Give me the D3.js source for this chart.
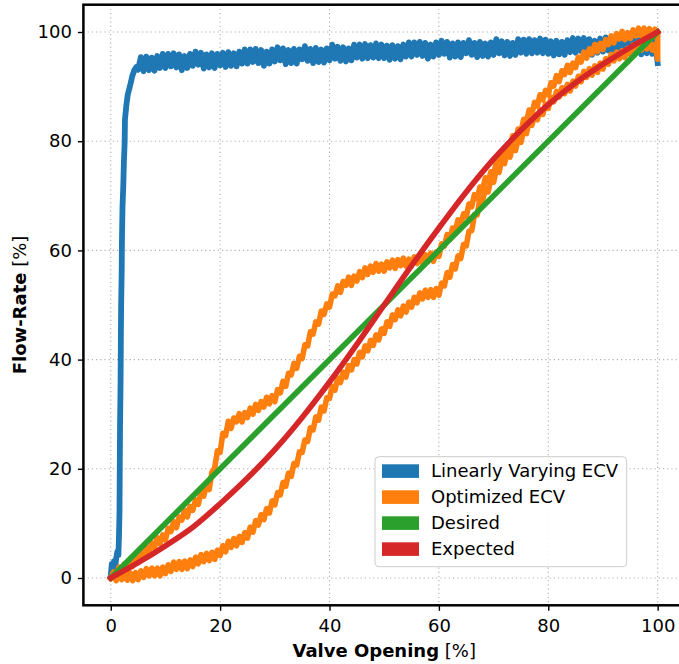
<!DOCTYPE html>
<html>
<head>
<meta charset="utf-8">
<script src="https://cdn.jsdelivr.net/npm/d3@7"></script>
<style>
  body { margin: 0; background: #fff; }
  svg { display: block; font-family: "DejaVu Sans", sans-serif; }
</style>
</head>
<body>
<script>
const tickValues = [0, 20, 40, 60, 80, 100];
const seriesNames = ['Linearly Varying ECV', 'Optimized ECV', 'Desired', 'Expected'];
const seriesColors = ['#1f77b4', '#ff7f0e', '#2ca02c', '#d62728'];

// linearly varying ECV: steep rise near zero opening
const blueRise = [
  [0, 0.4], [0.2, 2.6], [0.4, 1.0], [0.6, 3.1], [0.8, 2.0], [1.0, 3.6], [1.2, 4.8], [1.4, 4.2],
  [1.5, 7.5], [1.6, 12], [1.65, 20], [1.7, 28], [1.8, 36], [1.85, 44], [1.9, 50], [2.0, 56],
  [2.05, 62], [2.15, 68], [2.3, 72], [2.4, 76], [2.55, 80], [2.6, 84], [2.85, 86.5], [3.1, 88.5],
  [3.5, 90], [3.9, 91.8], [4.3, 93], [4.7, 93.6]
];
// plateau, opening 5 .. 100 in steps of 0.5
const bluePlateau = [
  93.1, 95.4, 92.8, 95.5, 93.0, 95.3, 92.9, 95.6, 93.4, 96.0,
  93.4, 96.0, 93.7, 96.1, 93.5, 95.9, 93.0, 95.6, 93.4, 96.0,
  93.8, 96.4, 94.0, 96.2, 93.3, 95.9, 93.5, 96.1, 93.4, 96.0,
  93.9, 96.2, 93.6, 96.3, 93.8, 96.1, 93.7, 96.4, 94.2, 96.8,
  94.2, 96.8, 94.5, 96.9, 94.3, 96.7, 93.8, 96.4, 94.2, 96.8,
  94.6, 97.2, 94.8, 97.0, 94.1, 96.7, 94.3, 96.9, 94.2, 96.8,
  95.0, 97.4, 94.7, 96.9, 94.3, 97.1, 94.5, 96.8, 94.4, 97.0,
  94.8, 97.7, 95.1, 97.3, 94.7, 97.2, 94.6, 97.0, 94.8, 97.7,
  95.3, 97.7, 95.1, 97.8, 95.2, 97.6, 95.3, 97.9, 95.2, 97.7,
  95.2, 97.5, 94.9, 97.6, 95.1, 97.4, 95.0, 97.7, 95.5, 98.1,
  95.5, 98.1, 95.8, 98.2, 95.6, 98.0, 95.1, 97.7, 95.5, 98.1,
  95.8, 98.4, 96.0, 98.2, 95.3, 97.9, 95.5, 98.1, 95.4, 98.0,
  96.1, 98.5, 95.8, 98.0, 95.4, 98.2, 95.6, 97.9, 95.5, 98.1,
  95.8, 98.7, 96.1, 98.3, 95.7, 98.2, 95.6, 98.0, 95.8, 98.7,
  96.2, 98.6, 96.0, 98.7, 96.1, 98.5, 96.2, 98.8, 96.1, 98.6,
  96.0, 98.3, 95.7, 98.4, 95.9, 98.2, 95.8, 98.5, 96.3, 98.9,
  96.2, 98.8, 96.5, 98.9, 96.3, 98.7, 95.8, 98.4, 96.2, 98.8,
  96.4, 99.0, 96.6, 98.8, 95.9, 98.5, 96.1, 98.7, 96.0, 98.6,
  96.6, 99.0, 96.3, 98.5, 95.9, 98.7, 96.1, 98.4, 96.0, 98.6,
  94.3
];

// optimized ECV, opening stroke (0 -> 100)
const orangeOpening = [
  [0, 0], [0.5, 1.1], [1, 0.3], [1.5, 2.0], [2, 0.8], [2.5, 2.6], [3, 1.7], [3.5, 3.4], [4, 2.1], [4.5, 3.7],
  [5, 2.8], [5.5, 4.7], [6, 3.8], [6.5, 5.7], [7, 4.6], [7.5, 6.4], [8, 5.6], [8.5, 7.4], [9, 6.3], [9.5, 7.9],
  [10, 7.0], [10.5, 9.1], [11, 8.5], [11.5, 10.3], [12, 9.2], [12.5, 11.2], [13, 10.6], [13.5, 12.4], [14, 11.2], [14.5, 13.1],
  [15, 12.4], [15.5, 14.3], [16, 13.5], [16.5, 15.7], [17, 15.0], [17.5, 16.9], [18, 16.2], [18.5, 19.4], [19, 20.1], [19.5, 23.3],
  [20, 23.0], [20.5, 26.5], [21, 26.1], [21.5, 28.7], [22, 27.4], [22.5, 29.3], [23, 28.6], [23.5, 30.1], [24, 28.6], [24.5, 30.3],
  [25, 29.4], [25.5, 31.1], [26, 30.0], [26.5, 31.8], [27, 30.7], [27.5, 32.3], [28, 31.3], [28.5, 33.1], [29, 31.9], [29.5, 33.4],
  [30, 32.3], [30.5, 34.5], [31, 33.9], [31.5, 36.0], [32, 35.1], [32.5, 37.5], [33, 37.2], [33.5, 39.3], [34, 38.4], [34.5, 40.6],
  [35, 40.2], [35.5, 42.7], [36, 42.5], [36.5, 45.1], [37, 44.7], [37.5, 46.9], [38, 46.5], [38.5, 48.9], [39, 48.3], [39.5, 50.2],
  [40, 49.6], [40.5, 52.0], [41, 51.7], [41.5, 53.5], [42, 52.3], [42.5, 54.3], [43, 53.6], [43.5, 55.1], [44, 53.6], [44.5, 55.3],
  [45, 54.4], [45.5, 56.1], [46, 55.0], [46.5, 56.8], [47, 55.6], [47.5, 57.1], [48, 56.0], [48.5, 57.6], [49, 56.2], [49.5, 57.5],
  [50, 56.2], [50.5, 57.9], [51, 56.8], [51.5, 58.2], [52, 56.7], [52.5, 58.3], [53, 57.2], [53.5, 58.6], [54, 57.1], [54.5, 58.4],
  [55, 57.2], [55.5, 58.8], [56, 57.6], [56.5, 59.1], [57, 57.7], [57.5, 59.2], [58, 58.0], [58.5, 59.5], [59, 58.0], [59.5, 59.7],
  [60, 58.9], [60.5, 61.2], [61, 60.8], [61.5, 62.9], [62, 62.0], [62.5, 64.1], [63, 63.6], [63.5, 65.6], [64, 64.7], [64.5, 66.7],
  [65, 66.2], [65.5, 68.5], [66, 68.0], [66.5, 70.2], [67, 69.5], [67.5, 71.6], [68, 71.1], [68.5, 73.3], [69, 72.5], [69.5, 74.4],
  [70, 73.8], [70.5, 76.2], [71, 75.8], [71.5, 77.9], [72, 77.1], [72.5, 79.3], [73, 78.9], [73.5, 81.0], [74, 80.1], [74.5, 82.2],
  [75, 81.7], [75.5, 84.0], [76, 83.5], [76.5, 85.7], [77, 85.0], [77.5, 87.1], [78, 86.5], [78.5, 88.5], [79, 87.6], [79.5, 89.3],
  [80, 88.5], [80.5, 90.7], [81, 90.1], [81.5, 92.0], [82, 90.9], [82.5, 92.9], [83, 92.2], [83.5, 93.9], [84, 92.6], [84.5, 94.3],
  [85, 93.5], [85.5, 95.4], [86, 94.5], [86.5, 96.3], [87, 95.2], [87.5, 96.9], [88, 96.0], [88.5, 97.7], [89, 96.4], [89.5, 97.9],
  [90, 96.8], [90.5, 98.6], [91, 97.7], [91.5, 99.3], [92, 98.0], [92.5, 99.7], [93, 98.7], [93.5, 100.1], [94, 98.6], [94.5, 99.9],
  [95, 98.8], [95.5, 100.4], [96, 99.3], [96.5, 100.7], [97, 99.3], [97.5, 100.7], [98, 99.6], [98.5, 100.6], [99, 99.3], [99.5, 100.5],
  [100, 100]
];
// optimized ECV, closing stroke (100 -> 0)
const orangeClosing = [
  [100, 95.0], [99.5, 97.7], [99, 96.7], [98.5, 98.3], [98, 96.9], [97.5, 98.2], [97, 96.7], [96.5, 98.1], [96, 96.6], [95.5, 97.6],
  [95, 95.9], [94.5, 97.0], [94, 95.3], [93.5, 96.6], [93, 95.1], [92.5, 96.3], [92, 94.7], [91.5, 95.9], [91, 94.1], [90.5, 95.1],
  [90, 93.2], [89.5, 94.3], [89, 92.6], [88.5, 93.8], [88, 92.1], [87.5, 93.3], [87, 91.7], [86.5, 92.8], [86, 90.9], [85.5, 91.9],
  [85, 90.1], [84.5, 91.0], [84, 89.2], [83.5, 90.4], [83, 88.7], [82.5, 89.8], [82, 88.1], [81.5, 89.1], [81, 87.2], [80.5, 88.0],
  [80, 86.0], [79.5, 86.8], [79, 84.9], [78.5, 85.8], [78, 83.9], [77.5, 84.8], [77, 82.9], [76.5, 83.6], [76, 81.4], [75.5, 82.0],
  [75, 79.8], [74.5, 80.4], [74, 78.3], [73.5, 79.1], [73, 77.1], [72.5, 77.9], [72, 75.9], [71.5, 76.6], [71, 74.3], [70.5, 74.8],
  [70, 72.5], [69.5, 73.0], [69, 70.7], [68.5, 71.3], [68, 69.1], [67.5, 69.4], [67, 66.5], [66.5, 66.5], [66, 63.6], [65.5, 63.5],
  [65, 60.8], [64.5, 61.1], [64, 58.5], [63.5, 59.0], [63, 56.6], [62.5, 57.4], [62, 55.1], [61.5, 55.9], [61, 53.5], [60.5, 54.0],
  [60, 51.8], [59.5, 53.0], [59, 51.4], [58.5, 52.8], [58, 51.4], [57.5, 52.7], [57, 51.1], [56.5, 52.2], [56, 50.4], [55.5, 51.4],
  [55, 49.6], [54.5, 50.5], [54, 48.7], [53.5, 49.8], [53, 48.0], [52.5, 49.1], [52, 47.3], [51.5, 48.2], [51, 46.1], [50.5, 46.9],
  [50, 44.8], [49.5, 45.6], [49, 43.6], [48.5, 44.5], [48, 42.6], [47.5, 43.5], [47, 41.6], [46.5, 42.5], [46, 40.5], [45.5, 41.3],
  [45, 39.2], [44.5, 40.0], [44, 38.1], [43.5, 38.9], [43, 36.8], [42.5, 37.7], [42, 35.8], [41.5, 36.6], [41, 34.4], [40.5, 35.1],
  [40, 32.9], [39.5, 33.0], [39, 30.6], [38.5, 31.3], [38, 28.9], [37.5, 29.5], [37, 27.1], [36.5, 27.5], [36, 25.0], [35.5, 25.3],
  [35, 23.0], [34.5, 23.1], [34, 20.7], [33.5, 21.0], [33, 18.6], [32.5, 19.2], [32, 16.8], [31.5, 17.5], [31, 15.2], [30.5, 15.6],
  [30, 13.4], [29.5, 14.1], [29, 11.9], [28.5, 12.7], [28, 10.7], [27.5, 11.6], [27, 9.7], [26.5, 10.5], [26, 8.4], [25.5, 9.3],
  [25, 7.3], [24.5, 8.3], [24, 6.5], [23.5, 7.6], [23, 5.9], [22.5, 7.2], [22, 5.6], [21.5, 6.7], [21, 4.8], [20.5, 5.9],
  [20, 4.1], [19.5, 5.1], [19, 3.4], [18.5, 4.7], [18, 3.2], [17.5, 4.5], [17, 3.0], [16.5, 4.3], [16, 2.6], [15.5, 3.8],
  [15, 2.1], [14.5, 3.3], [14, 1.7], [13.5, 3.1], [13, 1.6], [12.5, 3.0], [12, 1.6], [11.5, 2.9], [11, 1.2], [10.5, 2.4],
  [10, 0.8], [9.5, 2.0], [9, 0.4], [8.5, 1.8], [8, 0.4], [7.5, 1.8], [7, 0.4], [6.5, 1.7], [6, 0.1], [5.5, 1.3],
  [5, -0.3], [4.5, 1.0], [4, -0.5], [3.5, 1.0], [3, -0.4], [2.5, 1.1], [2, -0.3], [1.5, 1.1], [1, -0.5], [0.5, 0.8],
  [0, 0]
];

const desired = [[0, 0], [100, 100]];
const expected = [
  [0, 0], [5, 2.8], [10, 5.9], [15, 9.3], [20, 13.6], [25, 18.3], [30, 23.5], [35, 29.4], [40, 35.9],
  [45, 42.8], [50, 50], [55, 57.2], [60, 64.1], [65, 70.7], [70, 76.7], [75, 82], [80, 86.7],
  [85, 90.7], [90, 94.1], [95, 97.2], [100, 100]
];

const W = 679, H = 664;
const plotL = 83.4, plotR = 685, plotT = 4.7, plotB = 605.3;

const svg = d3.select('body').append('svg').attr('width', W).attr('height', H);

const x = d3.scaleLinear().domain([-5, 105]).range([plotL, plotR]);
const y = d3.scaleLinear().domain([-5, 105]).range([plotB, plotT]);

svg.append('defs').append('clipPath').attr('id', 'plot-clip')
  .append('rect').attr('x', plotL).attr('y', plotT).attr('width', plotR - plotL).attr('height', plotB - plotT);

// grid
const grid = svg.append('g').attr('stroke', '#b0b0b0').attr('stroke-width', 1.1).attr('stroke-dasharray', '1.2,3');
grid.selectAll('.vg').data(tickValues).enter().append('line')
  .attr('x1', d => x(d)).attr('x2', d => x(d)).attr('y1', plotT).attr('y2', plotB);
grid.selectAll('.hg').data(tickValues).enter().append('line')
  .attr('y1', d => y(d)).attr('y2', d => y(d)).attr('x1', plotL).attr('x2', plotR);

const line = d3.line().x(d => x(d[0])).y(d => y(d[1]));
const smooth = d3.line().x(d => x(d[0])).y(d => y(d[1])).curve(d3.curveMonotoneX);

const blue = blueRise.concat(bluePlateau.map((v, i) => [5 + i * 0.5, v]));
const orange = orangeOpening.concat(orangeClosing);

const lines = svg.append('g').attr('clip-path', 'url(#plot-clip)')
  .attr('fill', 'none').attr('stroke-linejoin', 'round').attr('stroke-linecap', 'square');

lines.append('path').attr('d', line(blue)).attr('stroke', seriesColors[0]).attr('stroke-width', 5.8);
lines.append('path').attr('d', line(orange)).attr('stroke', seriesColors[1]).attr('stroke-width', 5.6);
lines.append('path').attr('d', line(desired)).attr('stroke', seriesColors[2]).attr('stroke-width', 5.6);
lines.append('path').attr('d', smooth(expected)).attr('stroke', seriesColors[3]).attr('stroke-width', 5.6);

// axes
const xAxis = d3.axisBottom(x).tickValues(tickValues).tickSize(5.5).tickPadding(8).tickFormat(d3.format('d'));
const yAxis = d3.axisLeft(y).tickValues(tickValues).tickSize(5.5).tickPadding(6).tickFormat(d3.format('d'));

const gx = svg.append('g').attr('transform', 'translate(0,' + plotB + ')').call(xAxis);
const gy = svg.append('g').attr('transform', 'translate(' + plotL + ',0)').call(yAxis);
[gx, gy].forEach(g => {
  g.select('.domain').remove();
  g.selectAll('.tick line').attr('stroke', '#000').attr('stroke-width', 1.4);
  g.selectAll('.tick text').attr('fill', '#000').style('font-size', '18px')
    .style('font-family', '"DejaVu Sans", sans-serif');
});

// spines
svg.append('rect').attr('x', plotL).attr('y', plotT).attr('width', plotR - plotL).attr('height', plotB - plotT)
  .attr('fill', 'none').attr('stroke', '#000').attr('stroke-width', 2.5);

// axis labels
const xl = svg.append('text').attr('x', (plotL + plotR) / 2).attr('y', 656.5)
  .attr('text-anchor', 'middle').style('font-size', '18px');
xl.append('tspan').attr('font-weight', 'bold').text('Valve Opening');
xl.append('tspan').text(' [%]');

const yl = svg.append('text').attr('transform', 'translate(26,' + (plotT + plotB) / 2 + ') rotate(-90)')
  .attr('text-anchor', 'middle').style('font-size', '18px');
yl.append('tspan').attr('font-weight', 'bold').text('Flow-Rate');
yl.append('tspan').text(' [%]');

// legend
const legend = svg.append('g');
legend.append('rect').attr('x', 375).attr('y', 456.7).attr('width', 251.7).attr('height', 110)
  .attr('rx', 4).attr('fill', '#fff').attr('fill-opacity', 0.85).attr('stroke', '#cccccc').attr('stroke-width', 1);
const items = legend.selectAll('.item').data(seriesNames).enter().append('g')
  .attr('transform', (d, i) => 'translate(0,' + (i * 26) + ')');
items.append('rect').attr('x', 382).attr('y', 464.3).attr('width', 37).attr('height', 13.6)
  .attr('fill', (d, i) => seriesColors[i]);
items.append('text').attr('x', 431).attr('y', 477.3).style('font-size', '18px').attr('fill', '#000').text(d => d);
</script>
</body>
</html>
